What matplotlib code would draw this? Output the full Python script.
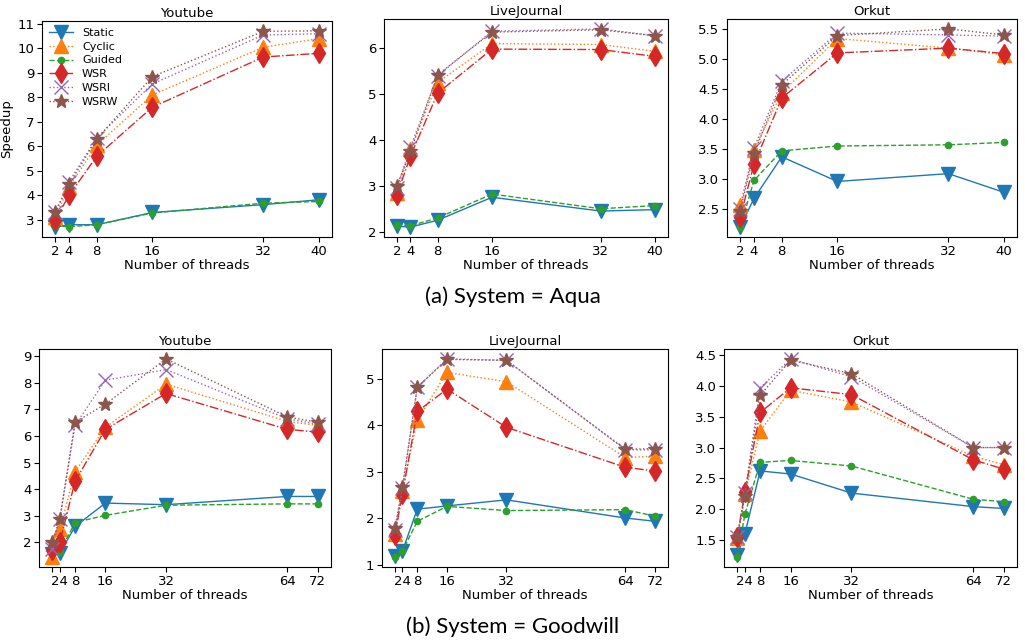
import matplotlib
matplotlib.use("Agg")
import matplotlib.pyplot as plt

# thread counts
threads_aqua = [2, 4, 8, 16, 32, 40]
threads_goodwill = [2, 4, 8, 16, 32, 64, 72]

methods = ["Static", "Cyclic", "Guided", "WSR", "WSRl", "WSRW"]

# System = Aqua
aqua_youtube = {
    "Static": [2.7, 2.8, 2.8, 3.3, 3.62, 3.82],
    "Cyclic": [3.1, 4.35, 6.05, 8.1, 10.05, 10.4],
    "Guided": [2.75, 2.72, 2.8, 3.28, 3.68, 3.75],
    "WSR": [3.0, 4.0, 5.6, 7.6, 9.65, 9.8],
    "WSRl": [3.3, 4.55, 6.35, 8.55, 10.55, 10.6],
    "WSRW": [3.3, 4.45, 6.3, 8.85, 10.7, 10.72],
}
aqua_livejournal = {
    "Static": [2.12, 2.1, 2.25, 2.75, 2.45, 2.48],
    "Cyclic": [2.85, 3.8, 5.25, 6.1, 6.08, 5.93],
    "Guided": [2.15, 2.13, 2.3, 2.82, 2.5, 2.57],
    "WSR": [2.8, 3.65, 5.02, 5.98, 5.97, 5.82],
    "WSRl": [2.95, 3.85, 5.4, 6.37, 6.42, 6.27],
    "WSRW": [3.0, 3.75, 5.42, 6.35, 6.4, 6.27],
}
aqua_orkut = {
    "Static": [2.2, 2.68, 3.37, 2.96, 3.09, 2.78],
    "Cyclic": [2.57, 3.49, 4.44, 5.34, 5.18, 5.07],
    "Guided": [2.2, 2.98, 3.47, 3.55, 3.57, 3.61],
    "WSR": [2.36, 3.25, 4.35, 5.1, 5.18, 5.09],
    "WSRl": [2.5, 3.52, 4.63, 5.43, 5.4, 5.38],
    "WSRW": [2.47, 3.43, 4.57, 5.39, 5.5, 5.4],
}

# System = Goodwill
goodwill_youtube = {
    "Static": [1.55, 1.6, 2.6, 3.48, 3.42, 3.73, 3.73],
    "Cyclic": [1.45, 2.5, 4.65, 6.33, 7.95, 6.55, 6.4],
    "Guided": [1.6, 1.65, 2.75, 3.02, 3.4, 3.45, 3.45],
    "WSR": [1.7, 2.0, 4.3, 6.25, 7.6, 6.25, 6.15],
    "WSRl": [1.75, 2.9, 6.4, 8.1, 8.5, 6.65, 6.45],
    "WSRW": [2.0, 2.9, 6.52, 7.2, 8.9, 6.72, 6.52],
}
goodwill_livejournal = {
    "Static": [1.2, 1.3, 2.2, 2.27, 2.4, 2.01, 1.94],
    "Cyclic": [1.67, 2.6, 4.12, 5.14, 4.94, 3.31, 3.34],
    "Guided": [1.17, 1.3, 1.94, 2.26, 2.17, 2.19, 2.05],
    "WSR": [1.65, 2.53, 4.3, 4.78, 3.96, 3.1, 3.02],
    "WSRl": [1.75, 2.65, 4.82, 5.43, 5.4, 3.48, 3.47],
    "WSRW": [1.8, 2.68, 4.82, 5.42, 5.4, 3.49, 3.5],
}
goodwill_orkut = {
    "Static": [1.26, 1.6, 2.62, 2.57, 2.26, 2.04, 2.01],
    "Cyclic": [1.53, 2.24, 3.27, 3.93, 3.74, 2.86, 2.72],
    "Guided": [1.22, 1.92, 2.76, 2.79, 2.7, 2.16, 2.12],
    "WSR": [1.55, 2.28, 3.57, 3.97, 3.86, 2.8, 2.65],
    "WSRl": [1.55, 2.26, 3.97, 4.44, 4.15, 3.0, 3.0],
    "WSRW": [1.54, 2.22, 3.85, 4.42, 4.2, 3.0, 3.0],
}

goodwill_ticklabels = ["", "24", "8", "16", "32", "64", "72"]

styles = {
    "Static": dict(marker="v", linestyle="-", markersize=10),
    "Cyclic": dict(marker="^", linestyle=":", markersize=10),
    "Guided": dict(marker=".", linestyle="--", markersize=9),
    "WSR": dict(marker="d", linestyle="-.", markersize=10),
    "WSRl": dict(marker="x", linestyle=":", markersize=10),
    "WSRW": dict(marker="*", linestyle=":", markersize=10),
}
colors = ["tab:blue", "tab:orange", "tab:green", "tab:red", "tab:purple", "tab:brown"]

W, H = 1025, 644
fig = plt.figure(figsize=(W / 100, H / 100), dpi=100)


def px_axes(left, top, right, bottom):
    return fig.add_axes([left / W, 1 - bottom / H, (right - left) / W, (bottom - top) / H])


def draw(ax, x, data, title, yticks, labels=None, legend=False):
    for m, c in zip(methods, colors):
        ax.plot(x, data[m], color=c, linewidth=1, label=m, **styles[m])
    ax.set_title(title, fontsize=9.5, pad=3)
    ax.set_xticks(x)
    ax.set_xticklabels(labels if labels else [str(v) for v in x])
    ax.set_yticks(yticks)
    ax.set_xlabel("Number of threads", fontsize=9.5, labelpad=1)
    ax.tick_params(labelsize=9.5, pad=2)
    if legend:
        ax.legend(loc="upper left", fontsize=8, frameon=False, handlelength=2.2,
                  labelspacing=0.35, borderaxespad=0.2)


ax = px_axes(42, 21, 332, 237)
draw(ax, threads_aqua, aqua_youtube, "Youtube", list(range(3, 12)), legend=True)
ax.set_ylabel("Speedup", fontsize=9.5, labelpad=3)

ax = px_axes(384, 19, 668, 237)
draw(ax, threads_aqua, aqua_livejournal, "LiveJournal", [2, 3, 4, 5, 6])

ax = px_axes(727, 19, 1017, 237)
draw(ax, threads_aqua, aqua_orkut, "Orkut", [2.5, 3.0, 3.5, 4.0, 4.5, 5.0, 5.5])

ax = px_axes(39, 349, 331, 567)
draw(ax, threads_goodwill, goodwill_youtube, "Youtube", list(range(2, 10)),
     goodwill_ticklabels)

ax = px_axes(382, 349, 668, 567)
draw(ax, threads_goodwill, goodwill_livejournal, "LiveJournal", [1, 2, 3, 4, 5],
     goodwill_ticklabels)

ax = px_axes(724, 349, 1017, 567)
draw(ax, threads_goodwill, goodwill_orkut, "Orkut", [1.5, 2.0, 2.5, 3.0, 3.5, 4.0, 4.5],
     goodwill_ticklabels)

fig.text(0.5, 1 - 297 / H, "(a) System = Aqua", ha="center", va="center",
         fontsize=16, family="Lato")
fig.text(0.5, 1 - 627 / H, "(b) System = Goodwill", ha="center", va="center",
         fontsize=16, family="Lato")

fig.savefig("out.png", dpi=100)
